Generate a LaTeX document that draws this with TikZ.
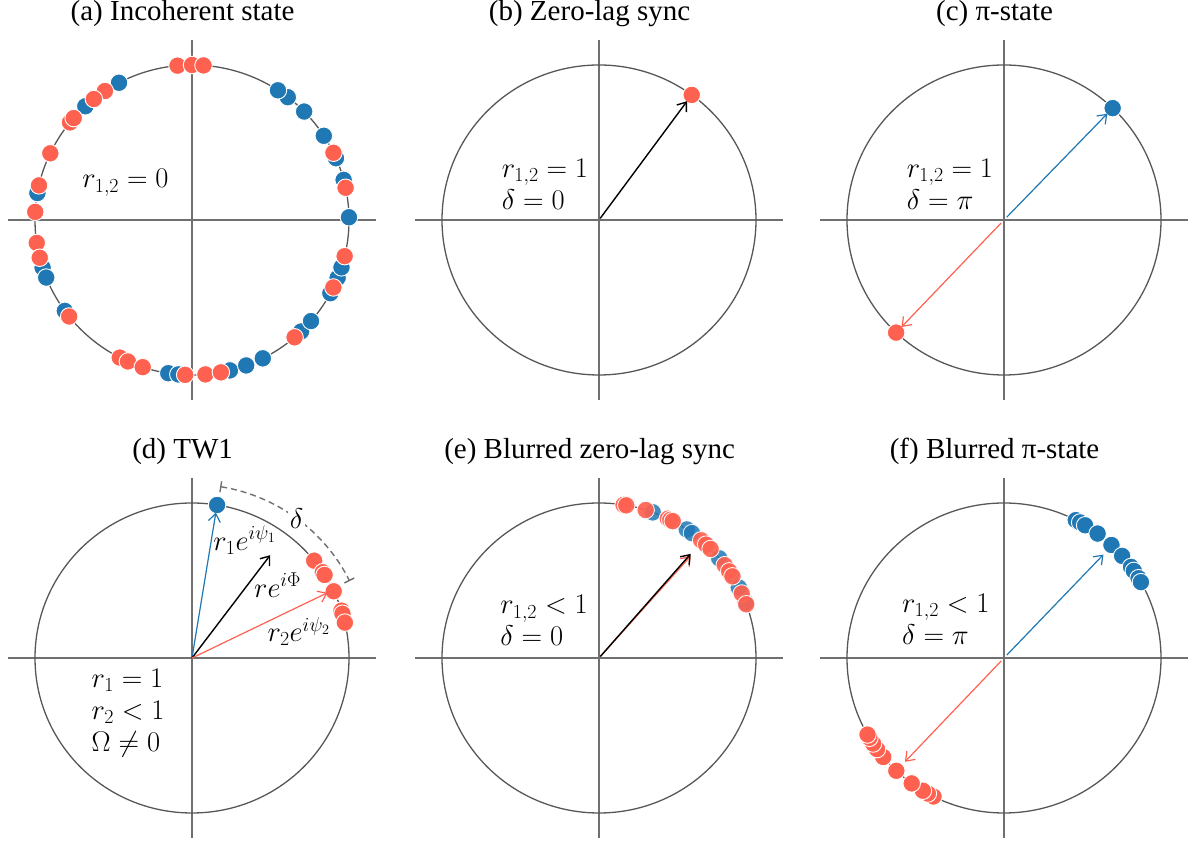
\RequirePackage{fix-cm}
\documentclass[tikz,border=0pt]{standalone}
\usepackage[no-math]{fontspec}
\setmainfont{Liberation Serif}
\usetikzlibrary{arrows.meta}
\definecolor{oscRed}{HTML}{FF6150}
\definecolor{oscBlue}{HTML}{1F77B4}
\definecolor{axisGray}{HTML}{707070}
\definecolor{ringGray}{HTML}{575757}
\tikzset{
  axisline/.style={axisGray, line width=1.5pt},
  ring/.style={ringGray, line width=1.3pt},
  dotR/.style={circle, fill=oscRed, draw=white, line width=0.9pt,
               inner sep=0pt, minimum size=17.5pt},
  dotB/.style={circle, fill=oscBlue, draw=white, line width=0.9pt,
               inner sep=0pt, minimum size=17.5pt},
  arrowK/.style={-{Straight Barb[length=8pt, width=12pt]}, black,
                 line width=1.4pt, shorten <=2pt},
  arrowB/.style={-{Straight Barb[length=8pt, width=12pt]}, oscBlue,
                 line width=1.2pt, shorten <=4pt},
  arrowR/.style={-{Straight Barb[length=8pt, width=12pt]}, oscRed,
                 line width=1.2pt, shorten <=4pt},
  ptitle/.style={font=\fontsize{29}{34}\selectfont},
  mlabel/.style={font=\fontsize{28.5}{32}\selectfont, inner sep=0pt, text=black},
  plabel/.style={mlabel, align=left, anchor=west},
}
% axes and unit circle of one panel
\newcommand{\phaseframe}{%
  \draw[axisline] (-1.17,0) -- (1.17,0);
  \draw[axisline] (0,-1.16) -- (0,1.16);
  \draw[ring] (0,0) circle[radius=1];
  \coordinate (o) at (0,0);
}

\begin{document}
\begin{tikzpicture}[x=1pt, y=1pt]
  \useasboundingbox (0,0) rectangle (1189,842);

  % (a) incoherent
  \begin{scope}[shift={(192pt,622pt)}, x=157pt, y=155pt]
    \phaseframe
    \node[ptitle] (a-title) at (-0.06,1.33) {(a) Incoherent state};
    \foreach \t [count=\i] in {117.7,132.8,170,197.9,201.8,215.9,261.3,265,
        284,290.2,296.8,314,319.3,331.8,338.1,342.2,1,15,23.5,32.9,44.4,52.4,56.8}
      \node[dotB] (a-b\i) at (\t:1) {};
    \foreach \t [count=\i] in {95.3,90,85.8,123.7,128.7,141,138.9,154.5,167.1,
        177,188.5,194.1,218.5,242.6,245.9,251.7,267.5,274.9,280.6,310.8,334.2,
        346.5,12,25.7}
      \node[dotR] (a-r\i) at (\t:1) {};
    \node[plabel] (a-lab) at (-0.70,0.24) {$r_{1,2}=0$};
  \end{scope}

  % (b) zero-lag
  \begin{scope}[shift={(599pt,622pt)}, x=157pt, y=155pt]
    \phaseframe
    \node[ptitle] (b-title) at (-0.06,1.33) {(b) Zero-lag sync};
    \node[dotR] (b-r) at (53.8:1) {};
    \coordinate (b-tip) at (53.8:0.95);
    \draw[arrowK] (o) -- (b-tip);
    \node[plabel] (b-lab) at (-0.62,0.23) {$r_{1,2}=1$\\$\delta=0$};
  \end{scope}

  % (c) pi-state
  \begin{scope}[shift={(1004pt,622pt)}, x=157pt, y=155pt]
    \phaseframe
    \node[ptitle] (c-title) at (-0.06,1.33) {(c) π-state};
    \node[dotB] (c-b) at (46.2:1) {};
    \node[dotR] (c-r) at (226.6:1) {};
    \coordinate (c-tb) at (46.2:0.95);
    \coordinate (c-tr) at (226.6:0.95);
    \draw[arrowB] (o) -- (c-tb);
    \draw[arrowR] (o) -- (c-tr);
    \node[plabel] (c-lab) at (-0.62,0.23) {$r_{1,2}=1$\\$\delta=\pi$};
  \end{scope}

  % (d) travelling wave
  \begin{scope}[shift={(192pt,184pt)}, x=157pt, y=155pt]
    \phaseframe
    \node[ptitle] (d-title) at (-0.06,1.33) {(d) TW1};
    \coordinate (d-s) at (80.8:1.12);
    \draw[axisGray, line width=1.4pt, dash pattern=on 6pt off 4pt,
          {Bar[width=11pt]}-{Bar[width=11pt]}]
      (d-s) arc[start angle=80.8, end angle=26.3, radius=1.12]
      node[pos=0.5, fill=white, mlabel, inner sep=2pt] (d-delta) {$\delta$};
    \node[dotB] (d-b) at (80.8:1) {};
    \foreach \t [count=\i] in {38.9,33.6,32.4,25.5,17.8,16.6,13.2}
      \node[dotR] (d-r\i) at (\t:1) {};
    \coordinate (d-tb) at (80.8:0.95);
    \coordinate (d-tk) at (53.1:0.83);
    \coordinate (d-tr) at (26:0.96);
    \draw[arrowB, shorten <=0pt] (o) -- (d-tb);
    \draw[arrowK, shorten <=0pt] (o) -- (d-tk);
    \draw[arrowR, shorten <=0pt] (o) -- (d-tr);
    \node[mlabel] (d-l1) at (0.335,0.76) {$r_1e^{i\psi_1}$};
    \node[mlabel] (d-l0) at (0.545,0.47) {$re^{i\Phi}$};
    \node[mlabel] (d-l2) at (0.68,0.17) {$r_2e^{i\psi_2}$};
    \node[plabel] (d-lab) at (-0.64,-0.355)
      {$r_1=1$\\$r_2<1$\\$\Omega\neq0$};
  \end{scope}

  % (e) blurred zero-lag
  \begin{scope}[shift={(599pt,184pt)}, x=157pt, y=155pt]
    \phaseframe
    \node[ptitle] (e-title) at (-0.06,1.33) {(e) Blurred zero-lag sync};
    \foreach \t [count=\i] in {70,62,56,53.7,47,40,33,27,21}
      \node[dotB, opacity=0.85] (e-b\i) at (\t:1) {};
    \foreach \t [count=\i] in {81,80,72.7,64,63,62,49.4,47,44.7,36.8,34,31.8,
        24.6,20.3}
      \node[dotR, opacity=0.92] (e-r\i) at (\t:1) {};
    \coordinate (e-tr) at (48.4:0.88);
    \coordinate (e-tk) at (49:0.89);
    \draw[arrowR, shorten <=2pt] (o) -- (e-tr);
    \draw[arrowK] (o) -- (e-tk);
    \node[plabel] (e-lab) at (-0.63,0.24) {$r_{1,2}<1$\\$\delta=0$};
  \end{scope}

  % (f) blurred pi-state
  \begin{scope}[shift={(1004pt,184pt)}, x=157pt, y=155pt]
    \phaseframe
    \node[ptitle] (f-title) at (-0.06,1.33) {(f) Blurred π-state};
    \foreach \t [count=\i] in {62.8,61,58.9,53.4,46.8,41.2,36,34.2,31,29.3}
      \node[dotB] (f-b\i) at (\t:1) {};
    \foreach \t [count=\i] in {243.3,241,238.9,234,226.7,219.7,216,213.5,211,209.6}
      \node[dotR] (f-r\i) at (\t:1) {};
    \coordinate (f-tb) at (46.5:0.92);
    \coordinate (f-tr) at (226.7:0.92);
    \draw[arrowB] (o) -- (f-tb);
    \draw[arrowR] (o) -- (f-tr);
    \node[plabel] (f-lab) at (-0.65,0.25) {$r_{1,2}<1$\\$\delta=\pi$};
  \end{scope}
\end{tikzpicture}
\end{document}
